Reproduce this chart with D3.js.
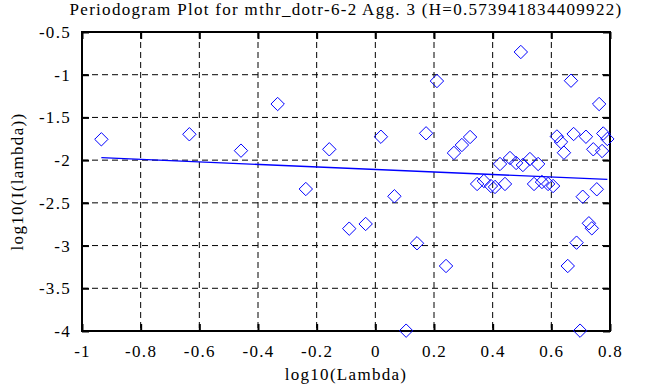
<!DOCTYPE html>
<html>
<head>
<meta charset="utf-8">
<script src="https://cdn.jsdelivr.net/npm/d3@7"></script>
<style>
  body { margin: 0; background: #fff; }
  text { font-family: "Liberation Serif", "Times New Roman", serif; font-size: 17px; letter-spacing: 1.3px; fill: #000; }
</style>
</head>
<body>
<div class="chart"></div>
<script>
// data
var logLambda = [-0.934, -0.634, -0.458, -0.333, -0.237, -0.157, -0.089, -0.033, 0.019, 0.173,
  0.065, 0.142, 0.105, 0.496, 0.210, 0.323, 0.295, 0.268, 0.241, 0.425,
  0.459, 0.480, 0.503, 0.527, 0.555, 0.347, 0.370, 0.394, 0.408, 0.442,
  0.541, 0.568, 0.589, 0.606, 0.619, 0.633, 0.643, 0.676, 0.718, 0.743,
  0.777, 0.791, 0.773, 0.667, 0.763, 0.755, 0.707, 0.728, 0.738, 0.686,
  0.656, 0.698];
var logI = [-1.756, -1.697, -1.889, -1.343, -2.338, -1.873, -2.802, -2.747, -1.726, -1.686,
  -2.423, -2.973, -3.996, -0.734, -1.074, -1.729, -1.823, -1.916, -3.239, -2.045,
  -1.975, -2.033, -2.057, -1.987, -2.045, -2.279, -2.244, -2.303, -2.314, -2.279,
  -2.279, -2.256, -2.279, -2.303, -1.723, -1.788, -1.913, -1.694, -1.726, -1.873,
  -1.688, -1.752, -1.893, -1.070, -1.343, -2.341, -2.428, -2.739, -2.798, -2.966,
  -3.239, -3.996];
var xTicks = [-1, -0.8, -0.6, -0.4, -0.2, 0, 0.2, 0.4, 0.6, 0.8];
var yTicks = [-4, -3.5, -3, -2.5, -2, -1.5, -1, -0.5];
// least squares fit, slope = 1 - 2H
var fitSlope = -0.14788;
var fitIntercept = -2.109;
var titleText = "Periodogram Plot for mthr_dotr-6-2 Agg. 3 (H=0.573941834409922)";
var xLabel = "log10(Lambda)";
var yLabel = "log10(I(lambda))";

var svgWidth = 668;
var svgHeight = 387;
var margin = { top: 32, right: 58, bottom: 56, left: 82 };
var width = svgWidth - margin.left - margin.right;
var height = svgHeight - margin.top - margin.bottom;

var svg = d3.select(".chart")
  .append("svg")
  .attr("width", svgWidth)
  .attr("height", svgHeight);

var chartGroup = svg.append("g")
  .attr("transform", `translate(${margin.left}, ${margin.top})`);

// Step 1: scales
var xScale = d3.scaleLinear().domain([-1, 0.8]).range([0, width]);
var yScale = d3.scaleLinear().domain([-4, -0.5]).range([height, 0]);

// Step 2: dashed grid
chartGroup.selectAll(".vgrid")
  .data(xTicks.slice(1, -1))
  .enter()
  .append("line")
  .attr("x1", d => xScale(d)).attr("x2", d => xScale(d))
  .attr("y1", 0).attr("y2", height)
  .attr("stroke", "#000")
  .attr("stroke-dasharray", "6,4");

chartGroup.selectAll(".hgrid")
  .data(yTicks.slice(1, -1))
  .enter()
  .append("line")
  .attr("x1", 0).attr("x2", width)
  .attr("y1", d => yScale(d)).attr("y2", d => yScale(d))
  .attr("stroke", "#000")
  .attr("stroke-dasharray", "6,4");

// Step 3: axes, ticks pointing inward on all four sides
var tickLen = 7;
var plainNum = d => String(d);
var bottomAxis = d3.axisBottom(xScale).tickValues(xTicks).tickSize(-tickLen).tickPadding(14).tickFormat(plainNum);
var topAxis = d3.axisTop(xScale).tickValues(xTicks).tickSize(-tickLen).tickFormat("");
var leftAxis = d3.axisLeft(yScale).tickValues(yTicks).tickSize(-tickLen).tickPadding(11).tickFormat(plainNum);
var rightAxis = d3.axisRight(yScale).tickValues(yTicks).tickSize(-tickLen).tickFormat("");

chartGroup.append("g").attr("class", "axis").attr("transform", `translate(0, ${height})`).call(bottomAxis);
chartGroup.append("g").attr("class", "axis").call(topAxis);
chartGroup.append("g").attr("class", "axis").call(leftAxis);
chartGroup.append("g").attr("class", "axis").attr("transform", `translate(${width}, 0)`).call(rightAxis);

chartGroup.selectAll(".axis .domain").remove();
chartGroup.selectAll(".axis").attr("font-family", null).attr("font-size", null);
chartGroup.selectAll(".axis line").attr("stroke", "#000").attr("stroke-width", 2);
chartGroup.selectAll(".axis text").attr("fill", "#000");

// frame
chartGroup.append("rect")
  .attr("x", 0).attr("y", 0)
  .attr("width", width).attr("height", height)
  .attr("fill", "none")
  .attr("stroke", "#000")
  .attr("stroke-width", 2);

// Step 4: fitted line over the data range
var xExt = d3.extent(logLambda);
chartGroup.append("line")
  .attr("x1", xScale(xExt[0])).attr("y1", yScale(fitIntercept + fitSlope * xExt[0]))
  .attr("x2", xScale(xExt[1])).attr("y2", yScale(fitIntercept + fitSlope * xExt[1]))
  .attr("stroke", "#0000ff")
  .attr("stroke-width", 1.3);

// Step 5: diamond markers
var r = 6.7;
chartGroup.selectAll(".pt")
  .data(logLambda)
  .enter()
  .append("path")
  .attr("d", `M0,${-r}L${r},0L0,${r}L${-r},0Z`)
  .attr("transform", (d, i) => `translate(${xScale(d)}, ${yScale(logI[i])})`)
  .attr("fill", "none")
  .attr("stroke", "#0000ff")
  .attr("stroke-width", 1);

// Step 6: titles
svg.append("text")
  .attr("x", margin.left + width / 2)
  .attr("y", 15)
  .attr("text-anchor", "middle")
  .text(titleText);

svg.append("text")
  .attr("x", margin.left + width / 2)
  .attr("y", 380)
  .attr("text-anchor", "middle")
  .text(xLabel);

svg.append("text")
  .attr("transform", `translate(23, ${margin.top + height / 2}) rotate(-90)`)
  .attr("text-anchor", "middle")
  .text(yLabel);
</script>
</body>
</html>
